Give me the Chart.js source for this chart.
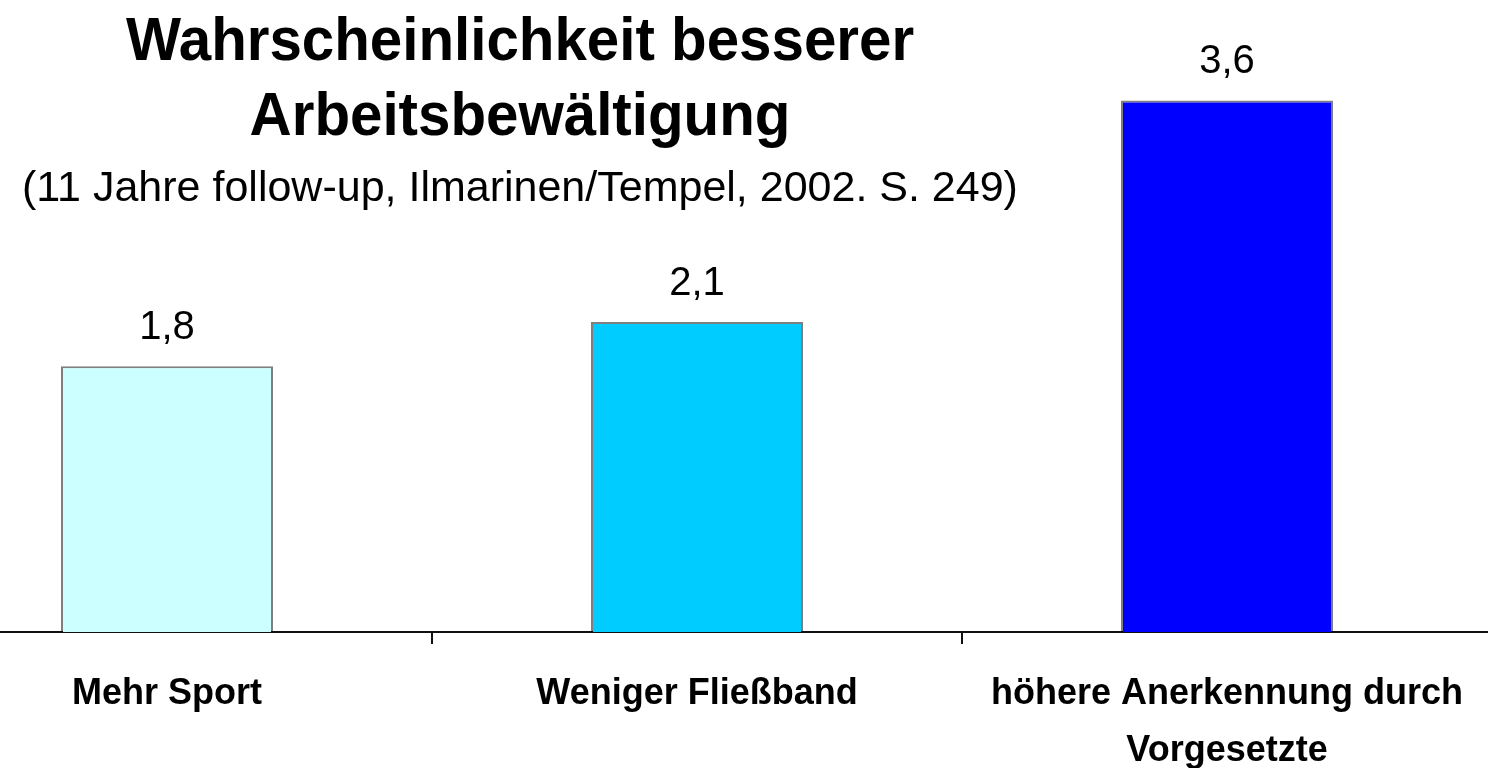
<!DOCTYPE html>
<html>
<head>
<meta charset="utf-8">
<script src="https://cdn.jsdelivr.net/npm/chart.js@4/dist/chart.umd.min.js"></script>
<style>
  html, body { margin: 0; padding: 0; width: 1488px; height: 768px; overflow: hidden; background: #fff; }
  #wrap { position: absolute; left: -98px; top: 0; width: 1590px; height: 768px; }
  .t { position: absolute; left: 0; width: 1040px; text-align: center; font-family: 'Liberation Sans', Arial, sans-serif; color: #000; white-space: nowrap; transform-origin: 520px 0; }
  .t1 { font-size: 62px; font-weight: bold; line-height: 62px; transform: scaleX(0.94); }
  .t2 { font-size: 43px; line-height: 43px; }
</style>
</head>
<body>
<div id="wrap"><canvas id="c"></canvas></div>
<div class="t t1" style="top:8px">Wahrscheinlichkeit besserer</div>
<div class="t t1" style="top:83px">Arbeitsbewältigung</div>
<div class="t t2" style="top:165px">(11 Jahre follow-up, Ilmarinen/Tempel, 2002. S. 249)</div>
<script>
const categories = ["Mehr Sport", "Weniger Fließband", ["höhere Anerkennung durch", "Vorgesetzte"]];
const values = [1.8, 2.1, 3.6];
const valueLabels = ["1,8", "2,1", "3,6"];
const barColors = ["#CCFFFF", "#00CCFF", "#0000FF"];

const valueLabelPlugin = {
  id: 'valueLabels',
  afterDatasetsDraw(chart) {
    const ctx = chart.ctx;
    const meta = chart.getDatasetMeta(0);
    ctx.save();
    ctx.font = '40px "Liberation Sans", Arial, sans-serif';
    ctx.fillStyle = '#000';
    ctx.textAlign = 'center';
    ctx.textBaseline = 'alphabetic';
    meta.data.forEach((bar, i) => {
      ctx.fillText(valueLabels[i], bar.x, bar.y - 27);
    });
    ctx.restore();
  }
};

new Chart(document.getElementById('c'), {
  type: 'bar',
  data: {
    labels: categories,
    datasets: [{
      data: values,
      backgroundColor: barColors,
      borderColor: 'rgba(0,0,0,0.5)',
      borderWidth: 2,
      borderSkipped: 'bottom',
      categoryPercentage: 1,
      barPercentage: 0.4
    }]
  },
  options: {
    responsive: true,
    maintainAspectRatio: false,
    animation: false,
    layout: { padding: 0 },
    plugins: { legend: { display: false }, tooltip: { enabled: false }, title: { display: false } },
    scales: {
      y: { display: false, min: 0, max: 4.28 },
      x: {
        afterFit(scale) { scale.height = 136; },
        border: { display: true, color: '#111', width: 2 },
        grid: { display: true, drawOnChartArea: false, drawTicks: true, tickLength: 12, color: '#111', lineWidth: 2, offset: true },
        ticks: {
          color: '#000',
          padding: 22,
          maxRotation: 0,
          autoSkip: false,
          font: { family: "'Liberation Sans', Arial, sans-serif", size: 36, weight: 'bold', lineHeight: 1.58 }
        }
      }
    }
  },
  plugins: [valueLabelPlugin]
});
</script>
</body>
</html>
